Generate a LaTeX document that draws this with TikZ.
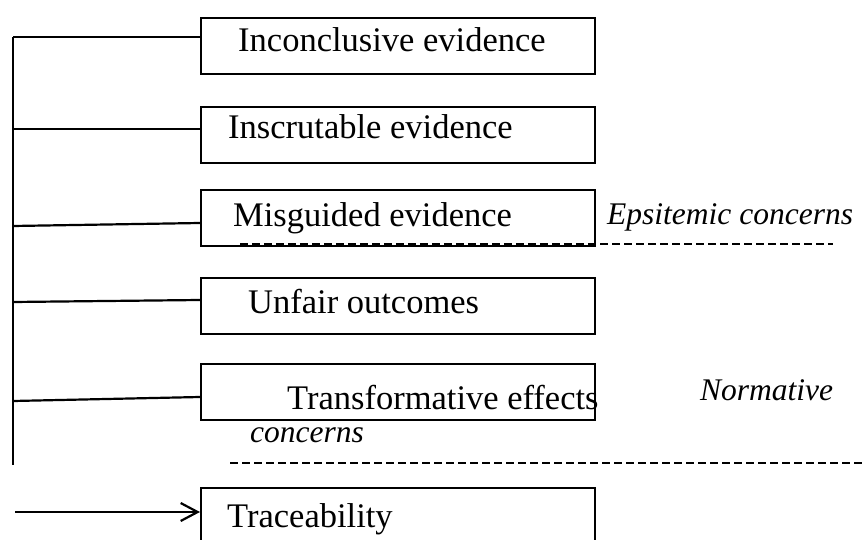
\documentclass[tikz,border=0pt]{standalone}
\usepackage{fontspec}
\setmainfont{Liberation Serif}
\usetikzlibrary{arrows.meta}
\begin{document}
\begin{tikzpicture}[x=1pt,y=-1pt,
  box/.style={draw, line width=2.2pt, minimum width=394pt, minimum height=56pt, inner sep=0pt, anchor=north west},
  lbl/.style={anchor=base west, inner sep=0pt, font=\fontsize{34.5}{40}\selectfont},
  ilbl/.style={anchor=base west, inner sep=0pt, font=\fontsize{31.5}{38}\selectfont\itshape},
  conn/.style={line width=2.2pt},
  sep/.style={line width=1.8pt, dash pattern=on 8pt off 4pt}]
\useasboundingbox (0,0) rectangle (862,540);
\clip (0,0) rectangle (862,540);
% boxes
\node[box] (b1) at (200,17) {};
\node[box] (b2) at (200,106) {};
\node[box] (b3) at (200,189) {};
\node[box] (b4) at (200,277) {};
\node[box] (b5) at (200,363) {};
\node[box] (b6) at (200,487) {};
% box texts
\node[lbl] (t1) at (238,52) {Inconclusive evidence};
\node[lbl] (t2) at (228,139) {Inscrutable evidence};
\node[lbl] (t3) at (233,226) {Misguided evidence};
\node[lbl] (t4) at (248,313) {Unfair outcomes};
\node[lbl] (t5) at (287,409) {Transformative effects};
\node[lbl] (t6) at (227,527) {Traceability};
% category labels
\node[ilbl] (c1) at (607,225) {Epsitemic concerns};
\node[ilbl] (c2) at (700,400) {Normative};
\node[ilbl] (c3) at (250,442) {concerns};
% spine
\coordinate (top) at (13,37);
\coordinate (bot) at (13,465);
\draw[conn] (top) -- (bot);
% branch points
\coordinate (s1) at (13,37);
\coordinate (s2) at (13,129);
\coordinate (s3) at (13,226);
\coordinate (s4) at (13,302);
\coordinate (s5) at (13,401);
\coordinate (e3) at (200,223);
\coordinate (e4) at (200,300);
\coordinate (e5) at (200,397);
\draw[conn] (s1) -- (b1.west |- s1);
\draw[conn] (s2) -- (b2.west |- s2);
\draw[conn] (s3) -- (e3);
\draw[conn] (s4) -- (e4);
\draw[conn] (s5) -- (e5);
% arrow to traceability
\coordinate (a0) at (15,512);
\draw[conn,-{Straight Barb[length=17pt,width=18pt,line width=2.2pt]}] (a0) -- (b6.west |- a0);
% dashed separators
\coordinate (d1a) at (240,244);
\coordinate (d1b) at (833,244);
\coordinate (d2a) at (230,463);
\coordinate (d2b) at (862,463);
\draw[sep] (d1a) -- (d1b);
\draw[sep] (d2a) -- (d2b);
\end{tikzpicture}
\end{document}
